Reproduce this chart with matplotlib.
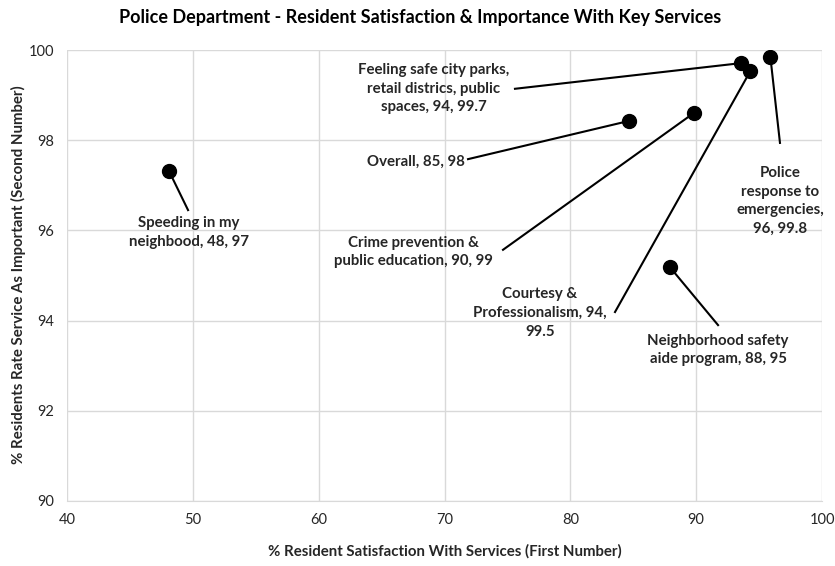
import matplotlib
matplotlib.use("Agg")
import matplotlib.pyplot as plt

plt.rcParams['font.family'] = ['Lato', 'DejaVu Sans']

# Data
services = ["Speeding in my\nneighbood, 48, 97",
            "Feeling safe city parks,\nretail districs, public\nspaces, 94, 99.7",
            "Overall, 85, 98",
            "Crime prevention &\npublic education, 90, 99",
            "Courtesy &\nProfessionalism, 94,\n99.5",
            "Neighborhood safety\naide program, 88, 95",
            "Police\nresponse to\nemergencies,\n96, 99.8"]
satisfaction = [48.1, 93.6, 84.7, 89.8, 94.3, 87.9, 95.9]
importance = [97.32, 99.71, 98.43, 98.60, 99.53, 95.19, 99.84]

# Label placement (data coordinates)
label_x = [49.70, 69.17, 67.74, 67.50, 77.59, 91.74, 96.66]
label_y = [95.95, 99.14, 97.52, 95.52, 94.17, 93.35, 96.65]
leader_x = [49.62, 75.60, 71.87, 74.65, 83.55, 91.74, 96.66]
leader_y = [96.45, 99.14, 97.58, 95.57, 94.19, 93.90, 97.94]

fig = plt.figure(figsize=(8.35, 5.66), dpi=100)
ax = fig.add_axes([67/835, 1-501/566, (822-67)/835, (501-50)/566])

ax.set_xlim(40, 100)
ax.set_ylim(90, 100)
ax.set_xticks(range(40, 101, 10))
ax.set_yticks(range(90, 101, 2))
ax.grid(True, color='#d9d9d9', linewidth=1)
ax.set_axisbelow(True)
for s in ['top', 'right', 'left']:
    ax.spines[s].set_visible(False)
ax.spines['bottom'].set_color('#d9d9d9')
ax.tick_params(length=0, labelsize=10.5, colors='#262626', pad=9)

for i in range(len(services)):
    ax.plot([satisfaction[i], leader_x[i]], [importance[i], leader_y[i]],
            color='black', linewidth=1.5, zorder=2)
    ax.text(label_x[i], label_y[i], services[i], ha='center', va='center',
            fontsize=10.8, fontweight='bold', color='#262626', linespacing=1.42,
            zorder=3)

ax.scatter(satisfaction, importance, s=100, color='black', zorder=4)

fig.text(0.503, 1-17/566, "Police Department - Resident Satisfaction & Importance With Key Services",
         ha='center', va='center', fontsize=13, fontweight='bold', color='black')
fig.text(445/835, 1-551/566, "% Resident Satisfaction With Services (First Number)",
         ha='center', va='center', fontsize=10.8, fontweight='bold', color='#262626')
fig.text(18/835, 1-275/566, "% Residents Rate Service As Important (Second Number)",
         ha='center', va='center', rotation=90, fontsize=10.8, fontweight='bold', color='#262626')

fig.savefig("out.png", dpi=100)
